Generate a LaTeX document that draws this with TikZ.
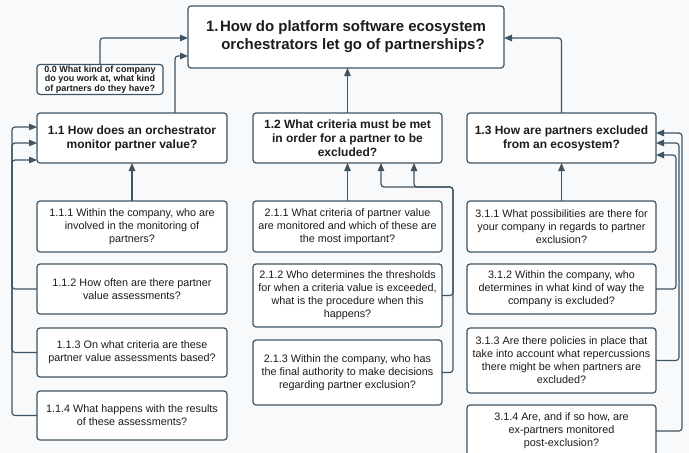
\documentclass[tikz,border=0pt]{standalone}
\usepackage{fontspec}
\setmainfont{Liberation Sans}
\usetikzlibrary{arrows.meta}
\definecolor{edgec}{RGB}{62,84,99}
\definecolor{bgc}{RGB}{248,249,251}
\definecolor{txtc}{RGB}{28,28,28}
\begin{document}
\begin{tikzpicture}[x=1pt,y=-1pt,
  qbox/.style={draw=edgec, line width=1.2pt, fill=white, rounded corners=3pt,
    inner sep=0pt, outer sep=0pt, align=center, text=txtc},
  titlebox/.style={qbox, font=\fontsize{15}{17.5}\selectfont\bfseries},
  hdrbox/.style={qbox, font=\fontsize{12}{14}\selectfont\bfseries},
  introbox/.style={qbox, font=\fontsize{9}{9.8}\selectfont\bfseries},
  subbox/.style={qbox, font=\fontsize{10.8}{13}\selectfont},
  conn/.style={draw=edgec, line width=1.2pt, rounded corners=3pt,
    -{Triangle[length=8pt,width=6.5pt]}}]
\useasboundingbox (0,0) rectangle (689,453);
\clip (0,0) rectangle (689,453);
\fill[bgc] (0,0) rectangle (689,453);

% main research question
\node[titlebox, minimum width=316pt, minimum height=62pt] (top) at (346,37)
  {\makebox[14pt][l]{1.}\begin{tabular}[t]{@{}c@{}}How do platform software ecosystem\\orchestrators let go of partnerships?\end{tabular}};

% introductory question
\node[introbox, minimum width=126pt, minimum height=30pt] (q0) at (100,79.5)
  {0.0 What kind of company\\do you work at, what kind\\of partners do they have?};

% sub-question 1.1 and its interview questions
\node[hdrbox, minimum width=190pt, minimum height=50pt] (q11) at (132,138)
  {1.1 How does an orchestrator\\monitor partner value?};
\node[subbox, minimum width=190pt, minimum height=51pt] (q111) at (132,226.5)
  {1.1.1 Within the company, who are\\involved in the monitoring of\\partners?};
\node[subbox, minimum width=190pt, minimum height=50pt] (q112) at (132,289)
  {1.1.2 How often are there partner\\value assessments?};
\node[subbox, minimum width=190pt, minimum height=49pt] (q113) at (132,352.5)
  {1.1.3 On what criteria are these\\partner value assessments based?};
\node[subbox, minimum width=190pt, minimum height=49pt] (q114) at (132,415.5)
  {1.1.4 What happens with the results\\of these assessments?};

% sub-question 1.2 and its interview questions
\node[hdrbox, minimum width=189pt, minimum height=50pt] (q12) at (347.5,138)
  {1.2 What criteria must be met\\in order for a partner to be\\excluded?};
\node[subbox, minimum width=189pt, minimum height=51pt] (q211) at (347.5,226.5)
  {2.1.1 What criteria of partner value\\are monitored and which of these are\\the most important?};
\node[subbox, minimum width=189pt, minimum height=63pt] (q212) at (347.5,295.5)
  {2.1.2 Who determines the thresholds\\for when a criteria value is exceeded,\\what is the procedure when this\\happens?};
\node[subbox, minimum width=189pt, minimum height=65pt] (q213) at (347.5,372.5)
  {2.1.3 Within the company, who has\\the final authority to make decisions\\regarding partner exclusion?};

% sub-question 1.3 and its interview questions
\node[hdrbox, minimum width=189pt, minimum height=50pt] (q13) at (561.5,138)
  {1.3 How are partners excluded\\from an ecosystem?};
\node[subbox, minimum width=189pt, minimum height=51pt] (q311) at (561.5,226.5)
  {3.1.1 What possibilities are there for\\your company in regards to partner\\exclusion?};
\node[subbox, minimum width=189pt, minimum height=50pt] (q312) at (561.5,289)
  {3.1.2 Within the company, who\\determines in what kind of way the\\company is excluded?};
\node[subbox, minimum width=189pt, minimum height=65pt] (q313) at (561.5,360.5)
  {3.1.3 Are there policies in place that\\take into account what repercussions\\there might be when partners are\\excluded?};
\node[subbox, minimum width=189pt, minimum height=52pt] (q314) at (561.5,431)
  {3.1.4 Are, and if so how, are\\ex-partners monitored\\post-exclusion?};

% bend levels of the connectors
\coordinate (ya) at (0,38);
\coordinate (yb) at (0,56);
\coordinate (la) at (12,127);
\coordinate (lb) at (12,143);
\coordinate (lc) at (12,160);
\coordinate (ma) at (453,187);
\coordinate (ra) at (676,155);
\coordinate (rb) at (679,143);
\coordinate (rc) at (682,133);

% into the main question
\draw[conn] (q0.north) |- (top.west |- ya);
\draw[conn] ([xshift=43pt]q11.north) |- (top.west |- yb);
\draw[conn] (q12.north) -- (q12.north |- top.south);
\draw[conn] (q13.north) |- (top.east |- ya);

% into 1.1
\draw[conn] (q111.north) -- (q11.south);
\draw[conn] (q112.west) -| (lc) -- (q11.west |- lc);
\draw[conn] (q113.west) -| (lb) -- (q11.west |- lb);
\draw[conn] (q114.west) -| (la) -- (q11.west |- la);

% into 1.2
\draw[conn] (q211.north) -- (q12.south);
\draw[conn] (q212.east) -| (ma) -| ([xshift=66.5pt]q12.south);
\draw[conn] (q213.east) -| (ma) -| ([xshift=33.5pt]q12.south);

% into 1.3
\draw[conn] (q311.north) -- (q13.south);
\draw[conn] (q312.east) -| (ra) -- (q13.east |- ra);
\draw[conn] (q313.east) -| (rb) -- (q13.east |- rb);
\draw[conn] (q314.east) -| (rc) -- (q13.east |- rc);
\end{tikzpicture}
\end{document}
